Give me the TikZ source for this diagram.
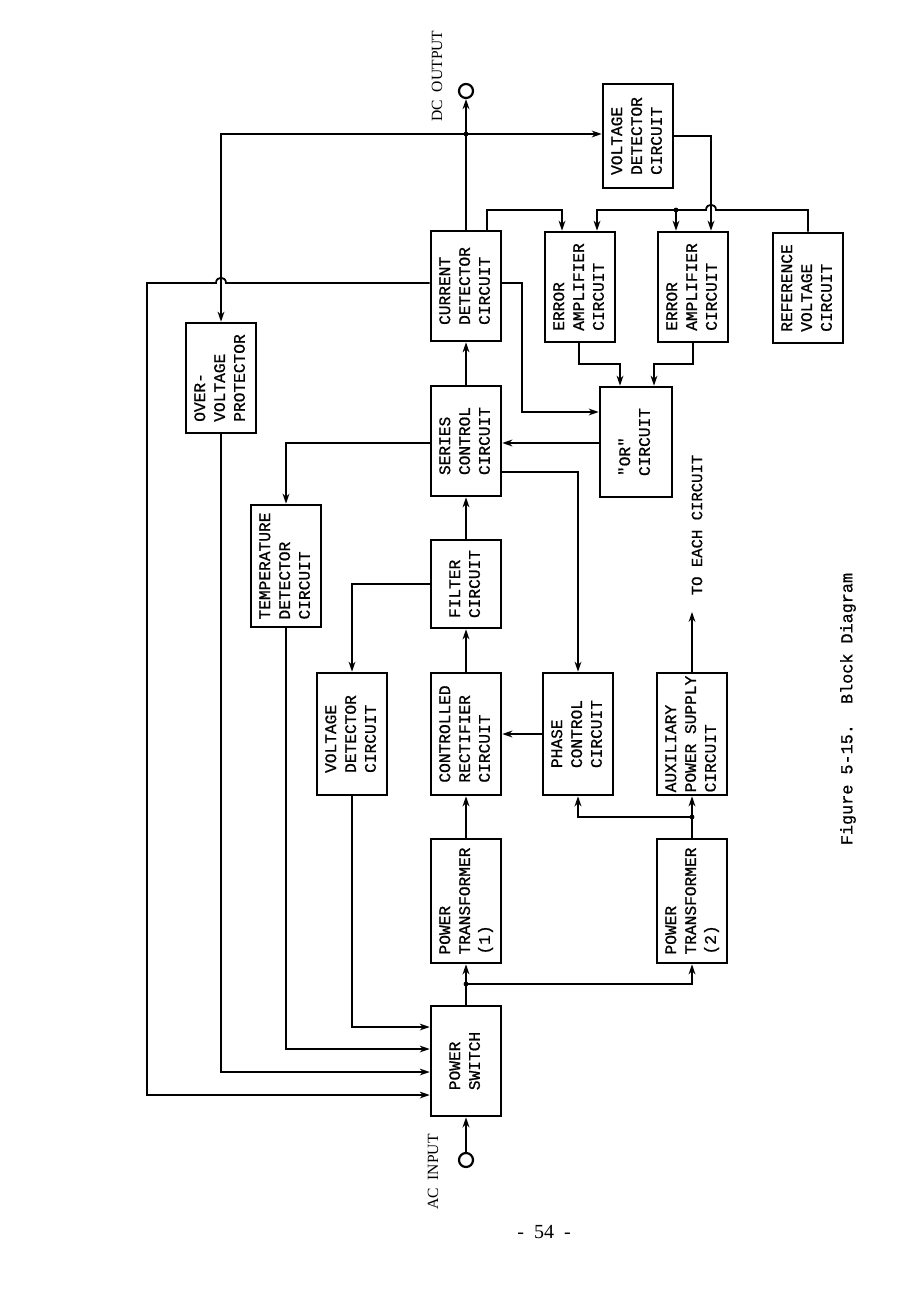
\documentclass[tikz,border=0pt]{standalone}
\usepackage{fontspec}
\usepackage{graphicx}
\setmainfont{Liberation Serif}
\newfontfamily\boxfont{Liberation Mono}[FakeBold=0.8]
\usetikzlibrary{arrows.meta}
\newcommand\vlab[1]{\rotatebox{90}{\begin{tabular}{@{}l@{}}#1\end{tabular}}}
\begin{document}
\begin{tikzpicture}[x=0.5pt, y=-0.5pt,
  box/.style={draw, line width=1.3pt, inner sep=0pt, font=\boxfont\fontsize{8.1}{9.9}\selectfont},
  wire/.style={line width=0.9pt},
  arr/.style={wire, -{Stealth[length=5pt,width=3.4pt]}},
  dot/.style={circle, fill, inner sep=0pt, minimum size=2.4pt},
  term/.style={circle, draw, line width=1.1pt, inner sep=0pt, minimum size=7pt}]
\fill[white] (0,0) rectangle (918,1300);
\useasboundingbox (0,0) rectangle (918,1300);

% boxes
\node[box, minimum width=35pt, minimum height=55pt] (CD) at (466,286) {\vlab{CURRENT\\DETECTOR\\CIRCUIT}};
\node[box, minimum width=35pt, minimum height=52pt] (VDt) at (638,136) {\vlab{VOLTAGE\\DETECTOR\\CIRCUIT}};
\node[box, minimum width=35pt, minimum height=55pt] (EA1) at (580,287) {\vlab{ERROR\\AMPLIFIER\\CIRCUIT}};
\node[box, minimum width=35pt, minimum height=55pt] (EA2) at (693,287) {\vlab{ERROR\\AMPLIFIER\\CIRCUIT}};
\node[box, minimum width=35pt, minimum height=55pt] (REF) at (808,288) {\vlab{REFERENCE\\VOLTAGE\\CIRCUIT}};
\node[box, minimum width=35pt, minimum height=55pt] (OVP) at (221,378) {\vlab{OVER-\\VOLTAGE\\PROTECTOR}};
\node[box, minimum width=35pt, minimum height=55pt] (SC) at (466,441) {\vlab{SERIES\\CONTROL\\CIRCUIT}};
\node[box, minimum width=36pt, minimum height=55pt] (OR) at (636,442) {\vlab{"OR"\\CIRCUIT}};
\node[box, minimum width=35pt, minimum height=61pt] (TEMP) at (286,566) {\vlab{TEMPERATURE\\DETECTOR\\CIRCUIT}};
\node[box, minimum width=35pt, minimum height=44pt] (FIL) at (466,584) {\vlab{FILTER\\CIRCUIT}};
\node[box, minimum width=35pt, minimum height=61pt] (VD2) at (352,734) {\vlab{VOLTAGE\\DETECTOR\\CIRCUIT}};
\node[box, minimum width=35pt, minimum height=61pt] (CR) at (466,734) {\vlab{CONTROLLED\\RECTIFIER\\CIRCUIT}};
\node[box, minimum width=35pt, minimum height=61pt] (PHASE) at (578,734) {\vlab{PHASE\\CONTROL\\CIRCUIT}};
\node[box, minimum width=35pt, minimum height=61pt] (AUX) at (692,734) {\vlab{AUXILIARY\\POWER SUPPLY\\CIRCUIT}};
\node[box, minimum width=35pt, minimum height=62pt] (PT1) at (466,901) {\vlab{POWER\\TRANSFORMER\\(1)}};
\node[box, minimum width=35pt, minimum height=62pt] (PT2) at (692,901) {\vlab{POWER\\TRANSFORMER\\(2)}};
\node[box, minimum width=35pt, minimum height=55pt] (PS) at (466,1061) {\vlab{POWER\\SWITCH}};

% terminals
\node[term] (dcout) at (466,91) {};
\node[term] (acin) at (466,1160) {};
\coordinate (toeach) at (692,612);

% labels
\node[rotate=90, font=\fontsize{7.8}{9}\selectfont] (dclab) at (437,76) {DC\ \ OUTPUT};
\node[rotate=90, font=\fontsize{7.8}{9}\selectfont] (aclab) at (433,1172) {AC\ \ INPUT};
\node[rotate=90, font=\boxfont\fontsize{7.8}{9}\selectfont] (toeachlab) at (697,525) {TO EACH CIRCUIT};
\node[rotate=90, font=\boxfont\fontsize{8.4}{9}\selectfont] (cap) at (848,709) {Figure 5-15.\ \ Block Diagram};
\node[font=\fontsize{10}{11}\selectfont] (pg) at (544,1232) {-\ \ 54\ \ -};

% junctions
\node[dot] (j1) at (466,134) {};
\node[dot] (j2) at (676,210) {};
\node[dot] (j3) at (692,817) {};
\node[dot] (j4) at (466,984) {};

% connectors
\draw[arr] (CD.north) -- (dcout.south);
\draw[arr] (j1.center) -- (j1 -| VDt.west);
\draw[arr] (j1.center) -| (OVP.north);
\draw[arr] (CD.west |- 0,283) -- (226,283) .. controls (226,276) and (216,276) .. (216,283) -- (147,283) |- (PS.west |- 0,1095);
\draw[arr] (CD.east |- 0,283) -| (522,412) -- (OR.west |- 0,412);
\draw[arr] (487,0 |- CD.north) |- (562,210) -- (562,0 |- EA1.north);
\draw[arr] (REF.north) |- (716,210) .. controls (716,203) and (706,203) .. (706,210) -- (597,210) -- (597,0 |- EA1.north);
\draw[arr] (j2.center) -- (j2 |- EA2.north);
\draw[arr] (VDt.east |- 0,136) -| (711,0 |- EA2.north);
\draw[arr] (579,0 |- EA1.south) |- (620,364) -- (620,0 |- OR.north);
\draw[arr] (EA2.south) |- (654,364) -- (654,0 |- OR.north);
\draw[arr] (OR.west |- 0,443) -- (SC.east |- 0,443);
\draw[arr] (SC.east |- 0,472) -| (PHASE.north);
\draw[arr] (SC.north) -- (CD.south);
\draw[arr] (SC.west |- 0,443) -| (TEMP.north);
\draw[arr] (FIL.north) -- (SC.south);
\draw[arr] (FIL.west |- 0,584) -| (VD2.north);
\draw[arr] (CR.north) -- (FIL.south);
\draw[arr] (PHASE.west) -- (CR.east);
\draw[arr] (PT1.north) -- (CR.south);
\draw[arr] (AUX.north) -- (toeach);
\draw[arr] (PT2.north) -- (AUX.south);
\draw[arr] (j3.center) -| (PHASE.south);
\draw[arr] (PS.north) -- (PT1.south);
\draw[arr] (j4.center) -| (PT2.south);
\draw[arr] (VD2.south) |- (PS.west |- 0,1027);
\draw[arr] (TEMP.south) |- (PS.west |- 0,1049);
\draw[arr] (OVP.south) |- (PS.west |- 0,1072);
\draw[arr] (acin.north) -- (PS.south);
\end{tikzpicture}
\end{document}
